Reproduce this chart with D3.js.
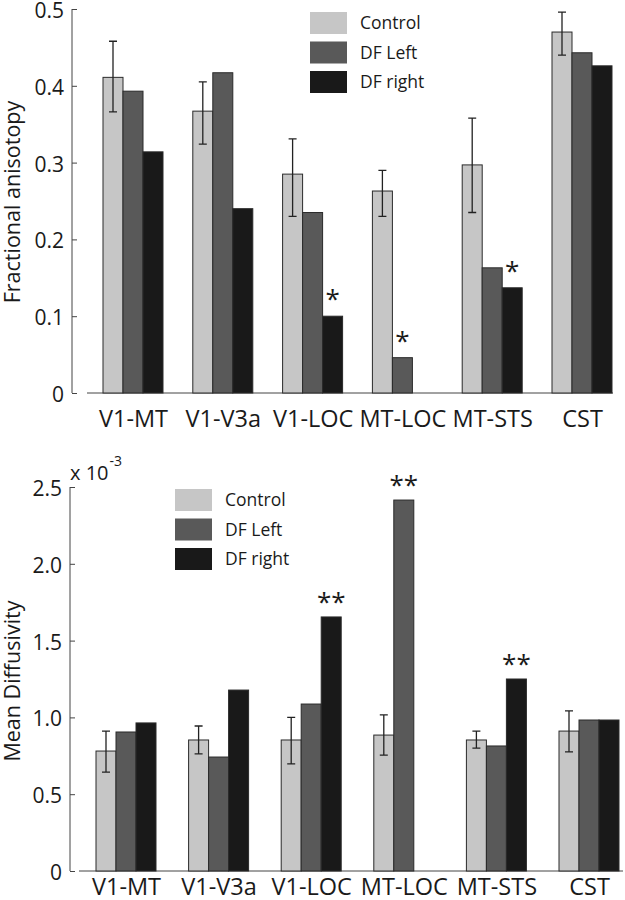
<!DOCTYPE html>
<html><head><meta charset="utf-8">
<script src="https://cdn.jsdelivr.net/npm/d3@7"></script>
<style>body{margin:0;background:#fff}svg{display:block}text{font-family:"Open Sans",sans-serif;fill:#1a1a1a}</style>
</head><body><svg id="c" width="625" height="900"></svg>
<script>
const categories = ["V1-MT","V1-V3a","V1-LOC","MT-LOC","MT-STS","CST"];
const series = ["Control","DF Left","DF right"];
const colors = ["#c6c6c6","#595959","#191919"];

// Fractional anisotropy
const faControl = [0.411,0.367,0.285,0.263,0.297,0.470];
const faLeft    = [0.393,0.417,0.235,0.046,0.163,0.443];
const faRight   = [0.314,0.240,0.100,0.000,0.137,0.426];
const faErrLow  = [0.366,0.324,0.230,0.230,0.235,0.440];
const faErrHigh = [0.458,0.405,0.331,0.290,0.358,0.496];
const faTicks = [0,0.1,0.2,0.3,0.4,0.5];
const faTickLabels = ["0","0.1","0.2","0.3","0.4","0.5"];
const faStars = [{cat:"V1-LOC",s:2,label:"*"},{cat:"MT-LOC",s:1,label:"*"},{cat:"MT-STS",s:2,label:"*"}];

// Mean diffusivity (x 10^-3)
const mdControl = [0.781,0.853,0.853,0.885,0.853,0.911];
const mdLeft    = [0.905,0.742,1.087,2.415,0.814,0.983];
const mdRight   = [0.964,1.178,1.654,0.000,1.250,0.983];
const mdErrLow  = [0.644,0.762,0.697,0.755,0.800,0.775];
const mdErrHigh = [0.911,0.944,1.000,1.016,0.911,1.042];
const mdTicks = [0,0.5,1.0,1.5,2.0,2.5];
const mdTickLabels = ["0","0.5","1.0","1.5","2.0","2.5"];
const mdStars = [{cat:"V1-LOC",s:2,label:"**"},{cat:"MT-LOC",s:1,label:"**"},{cat:"MT-STS",s:2,label:"**"}];

const svg = d3.select("#c");

function panel(cfg){
  const g = svg.append("g");
  const y = d3.scaleLinear().domain([0,cfg.ymax]).range([cfg.y0,cfg.y1]);
  const x0 = d3.scalePoint().domain(categories).range([cfg.cx0,cfg.cx1]);
  const x1 = d3.scaleBand().domain(series).range([-30,30]);
  const vals = [cfg.control,cfg.left,cfg.right];

  const ya = d3.axisRight(y).tickValues(cfg.ticks).tickSize(5).tickFormat((d,i)=>cfg.tickLabels[i]);
  const yg = g.append("g").attr("transform",`translate(${cfg.ax},0)`).call(ya)
    .attr("font-size",null).attr("font-family",null);
  yg.select(".domain").attr("d",`M0,${cfg.y0}V${cfg.y1}`).attr("stroke","#444");
  yg.selectAll(".tick line").attr("stroke","#444");
  yg.selectAll(".tick text").attr("x",-8).attr("text-anchor","end").attr("dy","0.4em")
    .attr("font-size",21).attr("fill","#1a1a1a");

  const xa = d3.axisBottom(x0).tickSize(0).tickPadding(10);
  const xg = g.append("g").attr("transform",`translate(0,${cfg.y0})`).call(xa)
    .attr("font-size",null).attr("font-family",null);
  xg.select(".domain").attr("d",`M${cfg.bx0},0H${cfg.bx1}`).attr("stroke","#444");
  xg.selectAll(".tick text").attr("dy",null).attr("y",cfg.xlabOff).attr("font-size",23.5)
    .attr("fill","#1a1a1a");

  series.forEach((s,si)=>{
    g.selectAll(null).data(categories).enter().append("rect")
      .attr("x",c=>x0(c)+x1(s)).attr("width",x1.bandwidth())
      .attr("y",(c,i)=>y(vals[si][i])).attr("height",(c,i)=>cfg.y0-y(vals[si][i]))
      .attr("fill",colors[si]).attr("stroke","#2a2a2a").attr("stroke-width",1);
  });

  categories.forEach((c,i)=>{
    const cx = x0(c)+x1("Control")+x1.bandwidth()/2;
    const lo=y(cfg.errLow[i]), hi=y(cfg.errHigh[i]);
    g.append("path").attr("d",`M${cx},${lo}V${hi}M${cx-4},${lo}H${cx+4}M${cx-4},${hi}H${cx+4}`)
      .attr("stroke","#222").attr("stroke-width",1.3).attr("fill","none");
  });

  cfg.stars.forEach(st=>{
    const i = categories.indexOf(st.cat);
    const cx = x0(st.cat)+x1(series[st.s])+x1.bandwidth()/2;
    g.append("text").attr("x",cx).attr("y",y(vals[st.s][i])-cfg.starOff)
      .attr("text-anchor","middle").attr("font-size",26).text(st.label);
  });

  series.forEach((s,si)=>{
    const ly = cfg.ly + si*cfg.lstep;
    g.append("rect").attr("x",cfg.lx).attr("y",ly).attr("width",37).attr("height",22).attr("fill",colors[si]);
    g.append("text").attr("x",cfg.lx+50).attr("y",ly+11).attr("dy","0.35em").attr("font-size",17.5).text(s);
  });

  g.append("text").attr("transform",`translate(${cfg.labx},${cfg.laby}) rotate(-90)`)
    .attr("text-anchor","middle").attr("font-size",21.5).text(cfg.ylabel);
  return {g,y};
}

panel({ymax:0.5,y0:393,y1:9,ax:72,cx0:133,cx1:582,bx0:87,bx1:613,
  control:faControl,left:faLeft,right:faRight,errLow:faErrLow,errHigh:faErrHigh,
  ticks:faTicks,tickLabels:faTickLabels,stars:faStars,starOff:8,xlabOff:34,
  lx:310,ly:12,lstep:29.5,labx:20,laby:202,ylabel:"Fractional anisotopy"});

const p2 = panel({ymax:2.5,y0:871,y1:487,ax:70,cx0:126,cx1:589,bx0:79,bx1:623,
  control:mdControl,left:mdLeft,right:mdRight,errLow:mdErrLow,errHigh:mdErrHigh,
  ticks:mdTicks,tickLabels:mdTickLabels,stars:mdStars,starOff:6,xlabOff:24,
  lx:175,ly:489,lstep:29.5,labx:20,laby:681,ylabel:"Mean Diffusivity"});

const ex = p2.g.append("text").attr("x",70).attr("y",480).attr("font-size",20);
ex.append("tspan").text("x 10");
ex.append("tspan").attr("dy",-14).attr("dx",1).attr("font-size",14).text("-3");
</script></body></html>
